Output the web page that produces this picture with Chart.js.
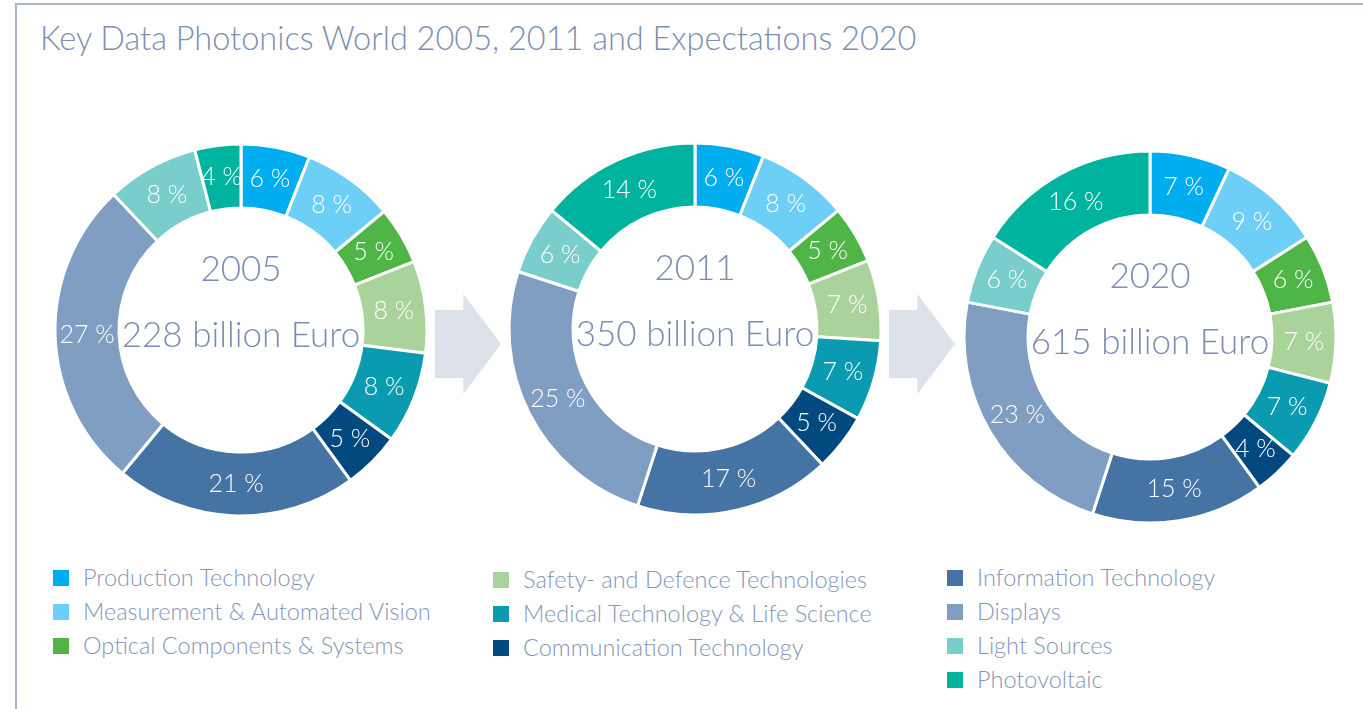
<!DOCTYPE html>
<html>
<head>
<meta charset="utf-8">
<script src="https://cdn.jsdelivr.net/npm/chart.js@4.4.1/dist/chart.umd.min.js"></script>
<style>
  body { margin: 0; background: #fff; }
  #page { position: relative; width: 1363px; height: 709px; overflow: hidden; font-family: Lato, 'Liberation Sans', sans-serif; font-weight: 300; }
  #frame { position: absolute; left: 15px; top: 3px; right: -5px; bottom: -5px; border-left: 2px solid #a9b5cb; border-top: 2px solid #a9b5cb; }
  h1 { position: absolute; left: 40px; top: 18px; margin: 0; font-size: 32.5px; font-weight: 300; color: #7c8fb0; white-space: nowrap; }
  canvas { position: absolute; }
  .arrow { position: absolute; width: 66px; height: 100px; background: #dde1ea;
    clip-path: polygon(0 16%, 43% 16%, 43% 0, 100% 50%, 43% 100%, 43% 84%, 0 84%); }
  .leg { position: absolute; font-size: 23.5px; color: #8497b6; white-space: nowrap; }
  .leg div { height: 34px; line-height: 34px; position: relative; padding-left: 30px; }
  .leg span { position: absolute; left: 0; top: 10px; width: 16px; height: 16px; }
</style>
</head>
<body>
<div id="page">
  <div id="frame"></div>
  <h1>Key Data Photonics World 2005, 2011 and Expectations 2020</h1>
  <div class="arrow" style="left:435px; top:294px;"></div>
  <div class="arrow" style="left:889px; top:294px;"></div>
  <canvas id="c2005" width="420" height="420"></canvas>
  <canvas id="c2011" width="420" height="420"></canvas>
  <canvas id="c2020" width="420" height="420"></canvas>
  <div class="leg" id="leg1" style="left:53px; top:560px;"></div>
  <div class="leg" id="leg2" style="left:493px; top:562px;"></div>
  <div class="leg" id="leg3" style="left:947px; top:560px;"></div>
</div>
<script>
const categories = ['Production Technology', 'Measurement & Automated Vision', 'Optical Components & Systems',
  'Safety- and Defence Technologies', 'Medical Technology & Life Science', 'Communication Technology',
  'Information Technology', 'Displays', 'Light Sources', 'Photovoltaic'];
const colors = ['#00aeef', '#6dcff6', '#50b547', '#a9d39b', '#0a9bb1', '#02497f',
  '#4574a4', '#809dc2', '#79cdca', '#00b39e'];
const years = ['2005', '2011', '2020'];
const totals = ['228 billion Euro', '350 billion Euro', '615 billion Euro'];
const share2005 = [6, 8, 5, 8, 8, 5, 21, 27, 8, 4];
const share2011 = [6, 8, 5, 7, 7, 5, 17, 25, 6, 14];
const share2020 = [7, 9, 6, 7, 7, 4, 15, 23, 6, 16];

// donut centres on the page
const centres = [[240.5, 330], [695, 329], [1149.5, 337]];

// percent labels inside the slices
const sliceLabels = {
  id: 'sliceLabels',
  afterDatasetsDraw(chart) {
    const ctx = chart.ctx;
    const meta = chart.getDatasetMeta(0);
    ctx.save();
    ctx.font = '300 25px Lato, "Liberation Sans", sans-serif';
    ctx.fillStyle = '#ffffff';
    ctx.textAlign = 'center';
    ctx.textBaseline = 'middle';
    meta.data.forEach((arc, i) => {
      const p = arc.tooltipPosition();
      ctx.fillText(chart.data.datasets[0].data[i] + ' %', p.x, p.y);
    });
    ctx.restore();
  }
};

// year and volume in the hole
const centreText = {
  id: 'centreText',
  afterDraw(chart, args, opts) {
    const ctx = chart.ctx;
    const arc = chart.getDatasetMeta(0).data[0];
    ctx.save();
    ctx.fillStyle = '#7c8daf';
    ctx.textAlign = 'center';
    ctx.textBaseline = 'middle';
    ctx.font = '300 35px Lato, "Liberation Sans", sans-serif';
    ctx.fillText(opts.year, arc.x, arc.y - 60);
    ctx.fillText(opts.total, arc.x, arc.y + 6);
    ctx.restore();
  }
};

[share2005, share2011, share2020].forEach((values, k) => {
  const cv = document.getElementById('c' + years[k]);
  cv.style.left = (centres[k][0] - 210) + 'px';
  cv.style.top = (centres[k][1] - 210) + 'px';
  new Chart(cv.getContext('2d'), {
    type: 'doughnut',
    data: {
      labels: categories,
      datasets: [{
        data: values,
        backgroundColor: colors,
        borderColor: '#ffffff',
        borderWidth: 3
      }]
    },
    options: {
      responsive: false,
      animation: false,
      radius: 186,
      cutout: '65.6%',
      plugins: {
        legend: { display: false },
        tooltip: { enabled: false },
        centreText: { year: years[k], total: totals[k] }
      }
    },
    plugins: [sliceLabels, centreText]
  });
});

// legend in three columns
const legendCols = [[0, 1, 2], [3, 4, 5], [6, 7, 8, 9]];
legendCols.forEach((idx, c) => {
  const box = document.getElementById('leg' + (c + 1));
  idx.forEach(i => {
    const row = document.createElement('div');
    row.innerHTML = '<span style="background:' + colors[i] + '"></span>' + categories[i];
    box.appendChild(row);
  });
});
</script>
</body>
</html>
